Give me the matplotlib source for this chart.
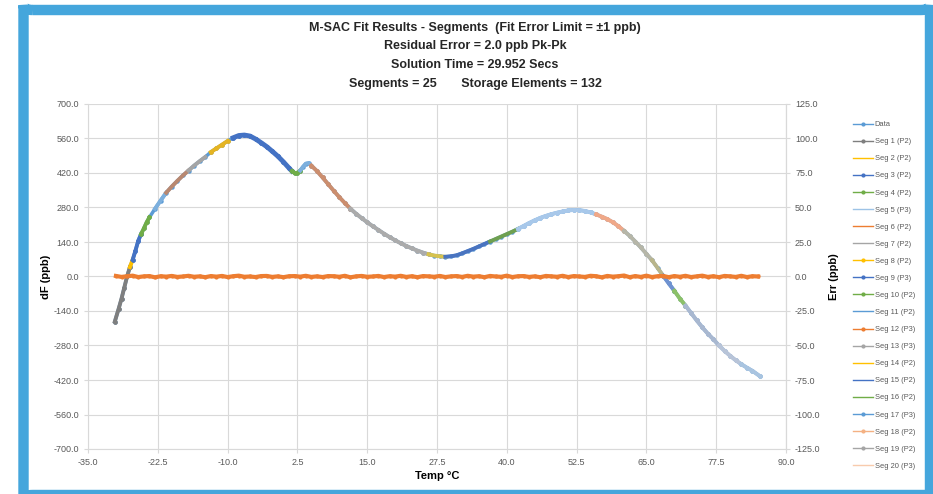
import matplotlib.pyplot as plt
import numpy as np
from matplotlib.patches import FancyBboxPatch
from matplotlib.lines import Line2D

# --- data ---
temp = [-30.2, -29.5, -29, -28.5, -28, -27.5, -27, -26.5, -26, -25.5, -25, -24.5, -24,
        -23, -22, -21, -20, -19, -18, -17, -16, -15, -14, -13, -12, -11, -10, -9, -8,
        -7, -6, -5, -4, -3, -2, -1, 0, 1, 1.5, 2, 2.5, 3, 3.5, 4, 4.5, 5, 6, 7, 8, 9,
        10, 11, 12, 13, 14, 15, 16, 17, 18, 19, 20, 21, 22, 23, 24, 25, 26, 27, 28, 29,
        30, 31, 32, 33, 34, 35, 36, 37, 38, 39, 40, 41, 42, 43, 44, 45, 46, 47, 48, 49,
        50, 51, 52, 53, 54, 55, 56, 57, 58, 59, 60, 61, 62, 63, 64, 65, 66, 67, 68, 69,
        70, 71, 72, 73, 74, 75, 76, 77, 78, 79, 80, 81, 82, 83, 84, 85.3]
df = [-183, -130, -90, -45, 0, 38, 68, 105, 145, 172, 195, 220, 240,
      275, 308, 340, 365, 388, 410, 430, 450, 468, 485, 505, 520, 535, 550, 563, 572,
      574, 570, 558, 543, 527, 508, 488, 465, 440, 428, 420, 421, 430, 445, 458, 460, 450, 428, 402, 375, 348,
      322, 298, 275, 255, 237, 220, 204, 189, 174, 160, 147, 135, 124, 114, 105, 97, 90, 85, 82, 80,
      82, 86, 94, 103, 112, 122, 132, 142, 152, 162, 172, 182, 193, 205, 217, 228, 238, 246, 253, 259,
      264, 268, 270, 269, 266, 260, 252, 243, 233, 220, 204, 185, 165, 142, 118, 92, 66, 35, 3, -28,
      -58, -90, -118, -148, -178, -206, -232, -255, -280, -302, -322, -340, -356, -370, -383, -404]

# residual error (right axis), sampled every 1 degC
res_temp = list(range(-30, 86))
residual = [0.4, -0.3, 0.2, 0.6, -0.4, 0.1, 0.3, -0.6, 0.2, -0.1, 0.4, -0.3, 0.0, 0.5, -0.2,
            0.1, -0.5, 0.3, -0.1, 0.4, -0.4, 0.2, 0.6, -0.2, 0.0, -0.4, 0.3, 0.4, -0.3, 0.1,
            -0.5, 0.2, 0.3, -0.1, 0.5, -0.3, 0.1, -0.4, 0.3, 0.2, -0.2, 0.5, -0.6, 0.1, 0.4,
            -0.2, 0.0, 0.4, -0.4, 0.2, -0.1, 0.5, -0.3, 0.2, -0.5, 0.3, 0.1, -0.2, 0.4, -0.4,
            0.1, 0.3, -0.3, 0.5, -0.1, 0.2, -0.5, 0.4, 0.0, -0.2, 0.6, -0.4, 0.2, 0.3, -0.3,
            0.1, -0.5, 0.4, 0.1, -0.2, 0.5, -0.4, 0.3, 0.0, -0.3, 0.5, 0.2, -0.6, 0.4, -0.1,
            0.2, 0.7, -0.5, 0.3, -0.3, 0.6, -0.4, 0.2, 0.4, -0.5, 0.3, -0.2, 0.5, -0.4, 0.1,
            0.6, -0.3, 0.2, -0.5, 0.4, 0.1, -0.3, 0.5, -0.4, 0.2, 0.0]

# segment start temps, colours, marker flag
seg_start = [-30.2, -27.5, -27, -25.5, -23.5, -21, -17, -13.5, -9.5, 1.5, 3, 5, 12, 26, 29,
             37, 42, 56, 61, 66, 68, 70, 72, 78, 82]
seg_end = seg_start[1:] + [85.3]
seg_colors = ['#7F7F7F', '#FFC000', '#4472C4', '#70AD47', '#7CAFDD', '#B98870', '#A5A5A5',
              '#E5B422', '#4472C4', '#70AD47', '#7CAFDD', '#CC8E6E', '#ABABAB', '#D6C24E',
              '#4A74C0', '#6FA050', '#A8C8EA', '#F0A888', '#B6B6A8', '#B9B58A', '#6F92D0',
              '#8CC168', '#A9B8D0', '#B8C4D8', '#A9C4E0']
seg_marker = [True, False, True, True, False, False, False, True, True, True, False, True,
              True, False, False, False, True, True, True, False, True, True, True, True, True]
seg_labels = ['Seg 1 (P2)', 'Seg 2 (P2)', 'Seg 3 (P2)', 'Seg 4 (P2)', 'Seg 5 (P3)', 'Seg 6 (P2)',
              'Seg 7 (P2)', 'Seg 8 (P2)', 'Seg 9 (P3)', 'Seg 10 (P2)', 'Seg 11 (P2)', 'Seg 12 (P3)',
              'Seg 13 (P3)', 'Seg 14 (P2)', 'Seg 15 (P2)', 'Seg 16 (P2)', 'Seg 17 (P3)', 'Seg 18 (P2)',
              'Seg 19 (P2)', 'Seg 20 (P3)']
legend_colors = ['#7F7F7F', '#FFC000', '#4472C4', '#70AD47', '#9DC3E6', '#ED7D31', '#A5A5A5',
                 '#FFC000', '#4472C4', '#70AD47', '#5B9BD5', '#ED7D31', '#A5A5A5', '#FFC000',
                 '#4472C4', '#70AD47', '#5B9BD5', '#F4B183', '#A5A5A5', '#F8CBAD']

plt.rcParams['font.family'] = ['Liberation Sans', 'DejaVu Sans']

fig = plt.figure(figsize=(9.33, 4.94), dpi=100)

# blue screenshot frame
frame = FancyBboxPatch((23.5 / 933, 1 - 10 / 494), (930 - 23.5) / 933, -(495 - 10) / 494,
                       boxstyle='round,pad=0,rounding_size=0.01', transform=fig.transFigure,
                       facecolor='none', edgecolor='#45A6DC', linewidth=7.5, zorder=10)
fig.patches.append(frame)

ax = fig.add_axes([88 / 933, 1 - 449 / 494, (786 - 88) / 933, (449 - 104) / 494])
ax.patch.set_alpha(0)
t = np.array(temp)
d = np.array(df)

ax.plot(t, d, color='#5B9BD5', lw=2.5, marker='o', ms=2.2, zorder=2)
for i in range(len(seg_start)):
    m = (t >= seg_start[i]) & (t <= seg_end[i])
    lw = 3.5 if i == 8 else 2.8
    ax.plot(t[m], d[m], color=seg_colors[i], lw=lw,
            marker='o' if seg_marker[i] else None, ms=2.4, zorder=3)

ax.set_xlim(-35, 90)
ax.set_ylim(-700, 700)
ax.set_xticks(np.arange(-35, 90.1, 12.5))
ax.set_yticks(np.arange(-700, 700.1, 140))
ax.set_xticklabels([f'{v:.1f}' for v in np.arange(-35, 90.1, 12.5)])
ax.set_yticklabels([f'{v:.1f}' for v in np.arange(-700, 700.1, 140)])
ax.grid(True, color='#D9D9D9', lw=0.8)
ax.set_axisbelow(True)
ax.tick_params(labelsize=6.5, labelcolor='#595959', length=3, color='#D9D9D9', width=0.8)
ax.spines['top'].set_visible(False)
for s in ['left', 'right', 'bottom']:
    ax.spines[s].set_color('#D9D9D9')
ax.set_xlabel('Temp °C', fontsize=8, fontweight='bold', labelpad=3)
ax.set_ylabel('dF (ppb)', fontsize=8, fontweight='bold', labelpad=2)

ax2 = ax.twinx()
ax2.plot(res_temp, residual, color='#ED7D31', lw=3, marker='o', ms=2, zorder=4)
ax2.set_ylim(-125, 125)
ax2.set_yticks(np.arange(-125, 125.1, 25))
ax2.set_yticklabels([f'{v:.1f}' for v in np.arange(-125, 125.1, 25)])
ax2.tick_params(labelsize=6.5, labelcolor='#595959', length=3, color='#D9D9D9', width=0.8)
for s in ['top', 'left', 'bottom']:
    ax2.spines[s].set_visible(False)
ax2.spines['right'].set_color('#D9D9D9')
ax2.set_ylabel('Err (ppb)', fontsize=8, fontweight='bold', labelpad=6)

# title
titles = ['M-SAC Fit Results - Segments  (Fit Error Limit = ±1 ppb)',
          'Residual Error = 2.0 ppb Pk-Pk',
          'Solution Time = 29.952 Secs',
          'Segments = 25       Storage Elements = 132']
for k, s in enumerate(titles):
    fig.text(475 / 933, 1 - (27.5 + 19 * k) / 494, s, ha='center', va='center',
             fontsize=9, fontweight='bold', color='#262626')

# legend
handles = [Line2D([], [], color='#5B9BD5', lw=1, marker='o', ms=2)]
for i in range(20):
    handles.append(Line2D([], [], color=legend_colors[i], lw=1,
                          marker='o' if seg_marker[i] else None, ms=2))
labels = ['Data'] + seg_labels
fig.legend(handles, labels, loc='upper left', bbox_to_anchor=(850 / 933, 1 - 118 / 494),
           frameon=False, fontsize=5.4, labelcolor='#595959', handlelength=2.6,
           handletextpad=0.3, labelspacing=1.31, borderaxespad=0)

fig.savefig('out.png', dpi=100)
